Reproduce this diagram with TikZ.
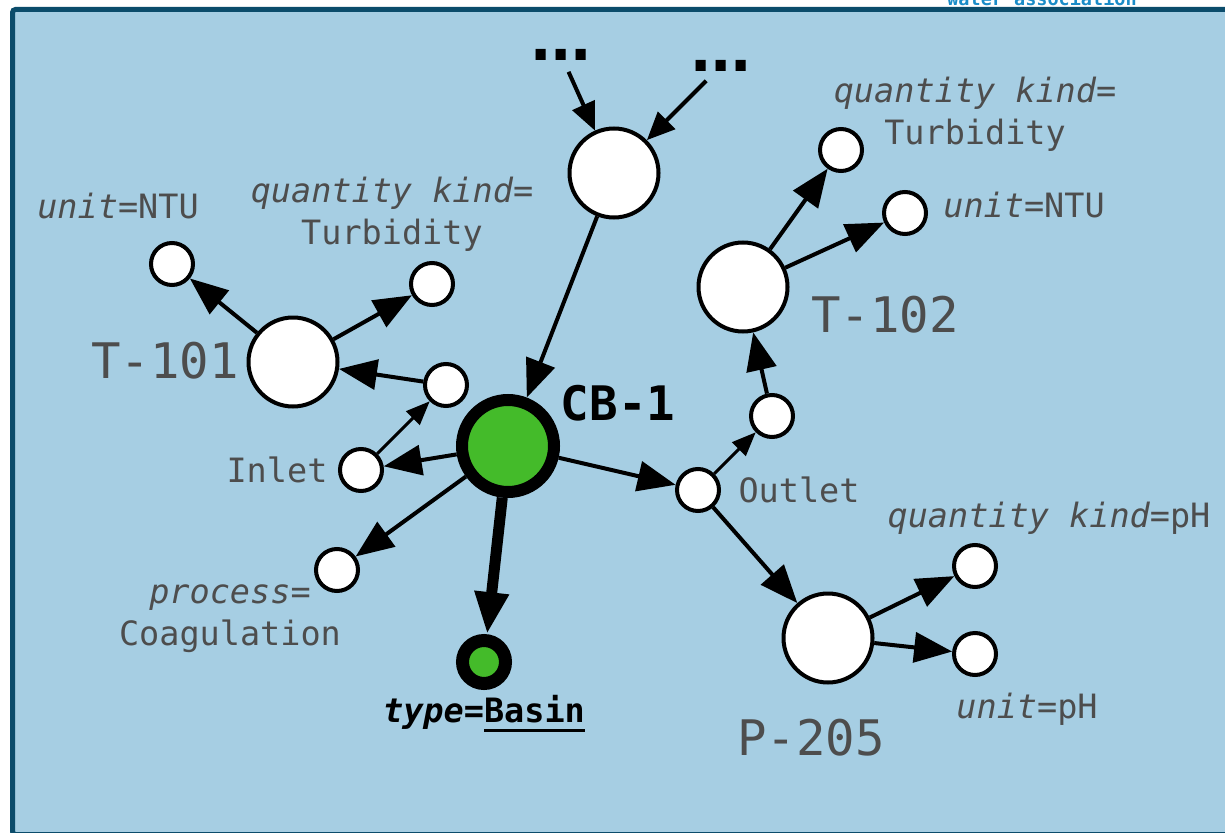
\documentclass[tikz,border=0pt]{standalone}
\usepackage{fontspec}
\setmonofont{DejaVu Sans Mono}
\usetikzlibrary{arrows.meta}
\definecolor{bg}{HTML}{A6CEE3}
\definecolor{framec}{HTML}{0B4C6B}
\definecolor{lbl}{HTML}{4D4D4D}
\definecolor{grn}{HTML}{44BB2A}
\definecolor{wa}{HTML}{1A8CC8}
\newcommand\tightdots{.\kern-17pt.\kern-17pt.}
\begin{document}
\begin{tikzpicture}[x=1pt,y=-1pt,
  big/.style={circle, draw=black, fill=white, line width=4pt, minimum size=89pt, inner sep=0pt},
  small/.style={circle, draw=black, fill=white, line width=4pt, minimum size=42pt, inner sep=0pt},
  hub/.style={circle, draw=black, fill=grn, line width=12pt, minimum size=92pt, inner sep=0pt},
  basin/.style={circle, draw=black, fill=grn, line width=13pt, minimum size=43pt, inner sep=0pt},
  edge/.style={line width=4pt, -{Triangle[length=38pt,width=30pt]}},
  smalledge/.style={line width=3pt, -{Triangle[length=24pt,width=19pt]}},
  topedge/.style={line width=4pt, shorten <=10pt, -{Triangle[length=28pt,width=24pt]}},
  thickedge/.style={line width=11pt, -{Triangle[length=42pt,width=32pt]}},
  lab/.style={font=\ttfamily\fontsize{33.5}{42}\selectfont, text=lbl, inner sep=0pt},
  biglab/.style={font=\ttfamily\fontsize{49}{55}\selectfont, text=lbl, inner sep=0pt},
  dots/.style={font=\ttfamily\bfseries\fontsize{62}{62}\selectfont, inner sep=2pt, text height=11pt, text depth=0pt}
]
\useasboundingbox (0,0) rectangle (1225,832);
\fill[white] (0,0) rectangle (1225,832);
\node[font=\ttfamily\bfseries\fontsize{18.5}{20}\selectfont, text=wa, anchor=base, inner sep=0pt] (wa) at (1042,6) {water association};
\draw[framec, line width=5pt, fill=bg, rounded corners=3pt] (12.5,9.5) rectangle (1245,834.5);

% nodes
\node[big] (top) at (614,173) {};
\node[hub] (cb) at (508,446) {};
\node[basin] (bas) at (484,662) {};
\node[big] (t101) at (293,362) {};
\node[small] (t101u) at (172,264) {};
\node[small] (t101q) at (432,284) {};
\node[small] (inup) at (446,385) {};
\node[small] (inl) at (361,470) {};
\node[small] (proc) at (337,570) {};
\node[small] (outl) at (698,490) {};
\node[small] (outup) at (772,416) {};
\node[big] (t102) at (743,287) {};
\node[small] (t102q) at (841,150) {};
\node[small] (t102u) at (905,213) {};
\node[big] (p205) at (828,638) {};
\node[small] (p205q) at (975,566) {};
\node[small] (p205u) at (975,654) {};
\node[dots] (dl) at (561,55) {\tightdots};
\node[dots] (dr) at (721,66) {\tightdots};

% edges
\draw[topedge] (dl) -- (top);
\draw[topedge] (dr) -- (top);
\draw[edge] (top) -- (cb);
\draw[edge] (cb) -- (inl);
\draw[edge] (cb) -- (proc);
\draw[thickedge] (cb) -- (bas);
\draw[edge] (cb) -- (outl);
\draw[smalledge] (inl) -- (inup);
\draw[edge] (inup) -- (t101);
\draw[edge] (t101) -- (t101u);
\draw[edge] (t101) -- (t101q);
\draw[smalledge] (outl) -- (outup);
\draw[edge] (outup) -- (t102);
\draw[edge] (t102) -- (t102q);
\draw[edge] (t102) -- (t102u);
\draw[edge] (outl) -- (p205);
\draw[edge] (p205) -- (p205q);
\draw[edge] (p205) -- (p205u);

% labels
\node[lab, anchor=base] (l1) at (118,218) {\itshape unit\upshape=NTU};
\node[lab, anchor=north, align=center] (l2) at (392,177) {\itshape quantity kind\upshape=\\Turbidity};
\node[biglab, anchor=base] (l3) at (165,378) {T-101};
\node[lab, anchor=base] (l4) at (277,482) {Inlet};
\node[lab, anchor=north, align=center] (l5) at (230,584) {\itshape process\upshape=\\Coagulation};
\node[font=\ttfamily\bfseries\fontsize{47.5}{50}\selectfont, text=black, inner sep=0pt, anchor=base] (l6) at (618,420) {CB-1};
\node[font=\ttfamily\bfseries\fontsize{33.5}{40}\selectfont, text=black, inner sep=0pt, anchor=base] (l7) at (484,722) {\itshape type\upshape=\rlap{\rule[-10pt]{3.01em}{3pt}}Basin};
\node[lab, anchor=base] (l8) at (799,502) {Outlet};
\node[lab, anchor=north, align=center] (l9) at (975,77) {\itshape quantity kind\upshape=\\Turbidity};
\node[lab, anchor=base] (l10) at (1024,217) {\itshape unit\upshape=NTU};
\node[biglab, anchor=base] (l11) at (885,332) {T-102};
\node[lab, anchor=base] (l12) at (1049,527) {\itshape quantity kind\upshape=pH};
\node[lab, anchor=base] (l13) at (1027,718) {\itshape unit\upshape=pH};
\node[biglab, anchor=base] (l14) at (811,755) {P-205};
\end{tikzpicture}
\end{document}
